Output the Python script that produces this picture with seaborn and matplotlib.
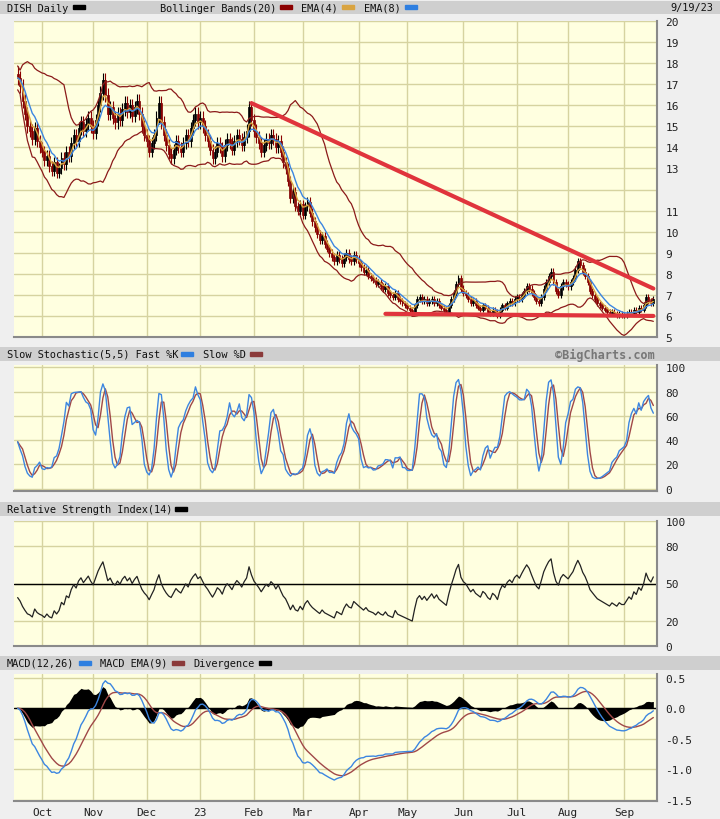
import matplotlib
matplotlib.use("Agg")
import matplotlib.pyplot as plt
import seaborn as sns
import numpy as np
import pandas as pd

# Daily closes, month by month
sep22 = [17.3, 16.9, 16.2, 15.6, 15.0, 14.8, 14.4, 14.9, 14.3, 14.0]
oct22 = [13.8, 13.4, 13.6, 13.1, 12.9, 13.3, 12.8, 13.0, 13.5, 13.2, 13.8, 13.6, 14.2, 14.6, 14.3,
         14.9, 15.2, 14.8, 15.1, 15.4, 15.0]
nov22 = [14.7, 15.3, 16.0, 16.6, 17.2, 16.5, 15.6, 15.9, 15.4, 15.2, 15.6, 15.3, 15.8, 16.1, 15.7,
         16.0, 15.5, 15.9, 16.2, 15.6, 15.0, 14.6]
dec22 = [14.3, 13.8, 14.2, 14.6, 15.4, 16.1, 15.2, 14.6, 14.1, 13.7, 13.5, 13.9, 14.3, 14.0, 13.8,
         14.2, 14.6, 14.3, 14.9, 15.3, 15.6, 15.2]
jan23 = [15.4, 15.0, 14.6, 14.3, 13.9, 13.5, 13.8, 14.2, 14.0, 13.6, 14.1, 14.4, 14.2, 13.9, 14.3,
         14.6, 14.4, 14.1, 14.5, 14.8, 15.9, 15.3]
feb23 = [14.8, 14.5, 14.2, 13.8, 14.1, 14.4, 14.2, 14.6, 14.4, 14.0, 14.3, 13.8, 13.3, 13.0, 12.4,
         11.6, 11.9, 11.2, 11.0, 11.3]
mar23 = [10.8, 11.2, 11.4, 10.9, 10.5, 10.2, 9.9, 9.6, 9.8, 9.4, 9.2, 9.0, 8.8, 8.6, 8.9, 8.7, 8.5,
         8.8, 9.0, 8.7, 8.6, 8.9, 8.7]
apr23 = [8.5, 8.3, 8.1, 8.2, 7.9, 7.8, 7.7, 7.5, 7.6, 7.4, 7.3, 7.4, 7.1, 7.0, 6.9, 7.1, 6.8, 6.7,
         6.6, 6.5]
may23 = [6.4, 6.3, 6.2, 6.5, 6.8, 6.9, 6.7, 6.8, 6.6, 6.7, 6.8, 6.6, 6.7, 6.5, 6.4, 6.3, 6.2, 6.5,
         6.8, 7.1, 7.5, 7.8, 7.3]
jun23 = [7.1, 7.0, 6.8, 6.6, 6.7, 6.5, 6.4, 6.3, 6.5, 6.4, 6.2, 6.1, 6.3, 6.2, 6.0, 6.3, 6.5, 6.4,
         6.6, 6.7, 6.6, 6.8]
jul23 = [6.9, 6.8, 7.0, 7.2, 7.4, 7.3, 7.1, 6.9, 6.7, 6.6, 6.9, 7.3, 7.6, 7.9, 8.1, 7.6, 7.2, 7.0,
         7.4, 7.6, 7.5]
aug23 = [7.4, 7.6, 7.8, 8.2, 8.6, 8.4, 8.1, 7.9, 7.6, 7.2, 7.0, 6.8, 6.6, 6.5, 6.4, 6.3, 6.2, 6.1,
         6.2, 6.1, 6.0, 6.1, 6.0]
sep23 = [6.0, 6.1, 6.2, 6.1, 6.3, 6.2, 6.4, 6.3, 6.5, 6.9, 6.7, 6.6, 6.8]

closes = np.array(sep22 + oct22 + nov22 + dec22 + jan23 + feb23 + mar23 + apr23 + may23 +
                  jun23 + jul23 + aug23 + sep23)
dates = pd.bdate_range(end="2023-09-19", periods=len(closes))

# Hand-drawn trend lines
trend_top_dates = ["2023-01-31", "2023-09-19"]
trend_top_vals = [16.1, 7.3]
trend_low_dates = ["2023-04-18", "2023-09-19"]
trend_low_vals = [6.1, 6.0]

month_labels = ["Oct", "Nov", "Dec", "23", "Feb", "Mar", "Apr", "May", "Jun", "Jul", "Aug", "Sep"]

# Derived series
df = pd.DataFrame({"close": closes}, index=dates)
df["open"] = df["close"].shift(1).fillna(df["close"].iloc[0] + 0.2)
df["high"] = df[["open", "close"]].max(axis=1) * 1.02
df["low"] = df[["open", "close"]].min(axis=1) * 0.98
df["x"] = np.arange(len(df))
ma20 = df["close"].rolling(20, min_periods=1).mean()
sd20 = df["close"].rolling(20, min_periods=2).std().bfill()
df["bb_up"] = ma20 + 2 * sd20
df["bb_lo"] = ma20 - 2 * sd20
df["ema4"] = df["close"].ewm(span=4, adjust=False).mean()
df["ema8"] = df["close"].ewm(span=8, adjust=False).mean()
lo5 = df["low"].rolling(5, min_periods=1).min()
hi5 = df["high"].rolling(5, min_periods=1).max()
raw = (df["close"] - lo5) / (hi5 - lo5) * 100
df["k"] = raw.rolling(3, min_periods=1).mean()
df["d"] = df["k"].rolling(3, min_periods=1).mean()
delta = df["close"].diff().fillna(0)
g = delta.clip(lower=0)
l = -delta.clip(upper=0)
g.iloc[0] = g.iloc[:28].mean()
l.iloc[0] = l.iloc[:28].mean()
gain = g.ewm(alpha=1 / 14, adjust=False).mean()
loss = l.ewm(alpha=1 / 14, adjust=False).mean()
df["rsi"] = 100 - 100 / (1 + gain / loss)
df["macd"] = df["close"].ewm(span=12, adjust=False).mean() - df["close"].ewm(span=26, adjust=False).mean()
df["signal"] = df["macd"].ewm(span=9, adjust=False).mean()
df["hist"] = df["macd"] - df["signal"]

month_pos = []
for i in range(1, len(df)):
    if df.index[i].month != df.index[i - 1].month:
        month_pos.append(i)

sns.set_style("white")
plt.rcParams["font.family"] = ["DejaVu Sans Mono"]
fig = plt.figure(figsize=(7.2, 8.2), dpi=100)
fig.patch.set_facecolor("#EFEFEF")

W, H = 720, 820
BG = "#FFFFE0"
GRID = "#D6D3A0"
FS = 7.4
CW = 6.05  # approx char width in px at FS
xlim = (-1.5, len(df) + 0.5)


def make_axes(top, bottom):
    ax = fig.add_axes([14 / W, 1 - bottom / H, 643 / W, (bottom - top) / H])
    ax.set_facecolor(BG)
    ax.set_xlim(*xlim)
    ax.yaxis.tick_right()
    ax.tick_params(axis="y", length=0, labelsize=8, pad=6, colors="#222222")
    ax.set_xticks(month_pos)
    ax.set_xticklabels([])
    ax.tick_params(axis="x", length=0)
    ax.grid(True, color=GRID, lw=1)
    ax.set_axisbelow(True)
    for s in ["top", "left"]:
        ax.spines[s].set_visible(False)
    for s in ["right", "bottom"]:
        ax.spines[s].set_color("#8A8A8A")
        ax.spines[s].set_linewidth(1.5)
    return ax


def header(top, bottom, items):
    hx = fig.add_axes([0, 1 - bottom / H, 1, (bottom - top) / H])
    hx.set_xlim(0, W)
    hx.set_ylim(0, 1)
    hx.axis("off")
    hx.add_patch(plt.Rectangle((0, 0), W, 1, color="#CFCFCF"))
    for x, txt, col, ha in items:
        hx.text(x, 0.5, txt, ha=ha, va="center", fontsize=FS, color="#111111")
        if col is not None:
            tw = len(txt) * CW
            hx.add_patch(plt.Rectangle((x + tw + 5, 0.38), 12, 0.28, color=col))
    return hx


# Panel 1: price
header(2, 15, [(7, "DISH Daily", "black", "left"), (160, "Bollinger Bands(20)", "#8B0000", "left"),
               (301, "EMA(4)", "#D9A441", "left"), (364, "EMA(8)", "#2F7FE0", "left"),
               (713, "9/19/23", None, "right")])
ax1 = make_axes(22, 338)
ax1.set_ylim(5, 20)
ax1.set_yticks(range(5, 21))
ax1.set_yticklabels([str(v) if v != 12 else "" for v in range(5, 21)])
up = df["close"] >= df["open"]
ax1.vlines(df["x"], df["low"], df["high"], color=np.where(up, "black", "#8B0000"), lw=0.8)
ax1.bar(df["x"][~up], (df["open"] - df["close"])[~up], bottom=df["close"][~up], width=0.8,
        color="#990000", edgecolor="#7A0000", lw=0.5)
ax1.bar(df["x"][up], (df["close"] - df["open"])[up].clip(lower=0.03), bottom=df["open"][up],
        width=0.8, color="white", edgecolor="black", lw=0.6)
sns.lineplot(x=df["x"], y=df["bb_up"], ax=ax1, color="#8B1A1A", lw=0.9)
sns.lineplot(x=df["x"], y=df["bb_lo"], ax=ax1, color="#8B1A1A", lw=0.9)
sns.lineplot(x=df["x"], y=df["ema4"], ax=ax1, color="#D9A441", lw=1.0)
sns.lineplot(x=df["x"], y=df["ema8"], ax=ax1, color="#3C86E0", lw=1.0)
tx = [df.index.get_indexer([pd.Timestamp(d)], method="nearest")[0] for d in trend_top_dates]
lx = [df.index.get_indexer([pd.Timestamp(d)], method="nearest")[0] for d in trend_low_dates]
ax1.plot(tx, trend_top_vals, color="#E0343C", lw=3)
ax1.plot(lx, trend_low_vals, color="#E0343C", lw=3)
ax1.set_xlabel("")
ax1.set_ylabel("")

# Panel 2: stochastic
hx2 = header(348, 362, [(7, "Slow Stochastic(5,5) Fast %K", "#2F7FE0", "left"),
                        (203, "Slow %D", "#8B3A3A", "left")])
hx2.text(655, 0.5, "©BigCharts.com", ha="right", va="center", fontsize=8.5, color="#777777",
         fontweight="bold")
ax2 = make_axes(366, 492)
ax2.set_ylim(-2, 102)
ax2.set_yticks([0, 20, 40, 60, 80, 100])
sns.lineplot(x=df["x"], y=df["d"], ax=ax2, color="#A04848", lw=1.0)
sns.lineplot(x=df["x"], y=df["k"], ax=ax2, color="#3C86E0", lw=1.0)
ax2.set_xlabel("")
ax2.set_ylabel("")

# Panel 3: RSI
header(503, 517, [(7, "Relative Strength Index(14)", "black", "left")])
ax3 = make_axes(522, 647)
ax3.set_ylim(0, 100)
ax3.set_yticks([0, 20, 50, 80, 100])
ax3.axhline(50, color="black", lw=1)
sns.lineplot(x=df["x"], y=df["rsi"], ax=ax3, color="#222222", lw=0.9)
ax3.set_xlabel("")
ax3.set_ylabel("")

# Panel 4: MACD
header(657, 671, [(7, "MACD(12,26)", "#2F7FE0", "left"), (100, "MACD EMA(9)", "#8B3A3A", "left"),
                  (193, "Divergence", "black", "left")])
ax4 = make_axes(675, 802)
ax4.set_ylim(-1.52, 0.56)
ax4.set_yticks([-1.5, -1.0, -0.5, 0.0, 0.5])
ax4.set_yticklabels(["-1.5", "-1.0", "-0.5", "0.0", "0.5"])
ax4.fill_between(df["x"], df["hist"], 0, color="black", lw=0)
ax4.axhline(0, color="black", lw=1)
sns.lineplot(x=df["x"], y=df["signal"], ax=ax4, color="#A04848", lw=1.0)
sns.lineplot(x=df["x"], y=df["macd"], ax=ax4, color="#3C86E0", lw=1.0)
ax4.set_xticklabels(month_labels)
ax4.tick_params(axis="x", labelsize=8, pad=4, colors="#222222")
ax4.set_xlabel("")
ax4.set_ylabel("")

fig.savefig("out.png", dpi=100, facecolor=fig.get_facecolor())
